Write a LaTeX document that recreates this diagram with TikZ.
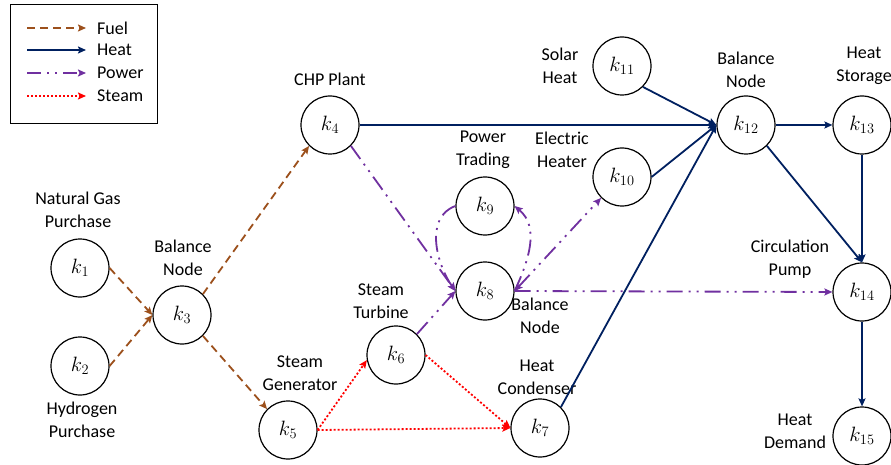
\documentclass[tikz,border=0pt]{standalone}
\usepackage{fontspec}
\setmainfont{Carlito}
\usetikzlibrary{arrows.meta}
\definecolor{fuelc}{RGB}{156,80,28}
\definecolor{heatc}{RGB}{0,32,96}
\definecolor{powerc}{RGB}{112,48,160}
\definecolor{steamc}{RGB}{255,0,0}
\begin{document}
\begin{tikzpicture}[x=1pt,y=-1pt,
  kn/.style={circle,draw=black,line width=1.2pt,minimum size=58pt,inner sep=0pt,font=\fontsize{22}{24}\selectfont},
  lab/.style={align=center,inner sep=0pt,font=\fontsize{18}{23}\selectfont},
  tip/.style={-{Stealth[length=8pt,width=7pt,inset=1.5pt]}},
  fuel/.style={tip,draw=fuelc,line width=1.8pt,dash pattern=on 8pt off 5pt},
  heat/.style={tip,draw=heatc,line width=1.8pt},
  power/.style={tip,draw=powerc,line width=1.8pt,dash pattern=on 16pt off 6pt on 2pt off 6pt on 2pt off 6pt},
  steam/.style={tip,draw=steamc,line width=1.8pt,dash pattern=on 2pt off 2pt}]
\useasboundingbox (0,0) rectangle (891,465);
\fill[white] (0,0) rectangle (891,465);

% legend
\draw[line width=0.8pt] (10,4) rectangle (157,123);
\coordinate (f1) at (27,28); \coordinate (f2) at (86,28);
\coordinate (h1) at (27,50); \coordinate (h2) at (86,50);
\coordinate (p1) at (27,73); \coordinate (p2) at (86,73);
\coordinate (s1) at (27,96); \coordinate (s2) at (86,96);
\draw[fuel] (f1) -- (f2);
\draw[heat] (h1) -- (h2);
\draw[power,dash pattern=on 14pt off 6pt on 2pt off 6pt on 2pt off 6pt] (p1) -- (p2);
\draw[steam] (s1) -- (s2);
\node[lab,anchor=west] (lf) at (97,28) {Fuel};
\node[lab,anchor=west] (lh) at (97,50) {Heat};
\node[lab,anchor=west] (lp) at (97,73) {Power};
\node[lab,anchor=west] (ls) at (97,96) {Steam};

% nodes
\node[kn] (k1) at (80,268) {$k_{1}$};
\node[kn] (k2) at (80,366) {$k_{2}$};
\node[kn] (k3) at (182,315) {$k_{3}$};
\node[kn] (k4) at (330,125) {$k_{4}$};
\node[kn] (k5) at (288,430) {$k_{5}$};
\node[kn] (k6) at (396,355) {$k_{6}$};
\node[kn] (k7) at (540,428) {$k_{7}$};
\node[kn] (k8) at (485,291) {$k_{8}$};
\node[kn] (k9) at (485,206) {$k_{9}$};
\node[kn] (k10) at (622,177) {$k_{10}$};
\node[kn] (k11) at (622,66) {$k_{11}$};
\node[kn] (k12) at (746,125) {$k_{12}$};
\node[kn] (k13) at (862,125) {$k_{13}$};
\node[kn] (k14) at (862,292) {$k_{14}$};
\node[kn] (k15) at (862,436) {$k_{15}$};

% labels
\node[lab] (t1) at (78,210) {Natural Gas\\Purchase};
\node[lab] (t2) at (82,420) {Hydrogen\\Purchase};
\node[lab] (t3) at (183,258) {Balance\\Node};
\node[lab] (t4) at (330,79) {CHP Plant};
\node[lab] (t5) at (300,373) {Steam\\Generator};
\node[lab] (t6) at (381,301) {Steam\\Turbine};
\node[lab] (t7) at (537,377) {Heat\\Condenser};
\node[lab] (t9) at (483,150) {Power\\Trading};
\node[lab] (t10) at (562,150) {Electric\\Heater};
\node[lab] (t8) at (540,316) {Balance\\Node};
\node[lab] (t11) at (560,66) {Solar\\Heat};
\node[lab] (t12) at (746,70) {Balance\\Node};
\node[lab] (t13) at (864,66) {Heat\\Storage};
\node[lab] (t14) at (790,259) {Circulation\\Pump};
\node[lab] (t15) at (795,431) {Heat\\Demand};

% fuel
\draw[fuel] (k1.east) -- (k3.west);
\draw[fuel] (k2.east) -- (k3.west);
\draw[fuel] (k3.north east) -- (k4.south west);
\draw[fuel] (k3.south east) -- (k5.north west);

% heat
\draw[heat] (k4.east) -- (k12.west);
\draw[heat] (k11.south east) -- (k12.west);
\draw[heat] (k10.east) -- (k12.west);
\draw[heat] (k7.north east) -- (k12.west);
\draw[heat] (k12.east) -- (k13.west);
\draw[heat] (k12.south east) -- (k14.north);
\draw[heat] (k13.south) -- (k14.north);
\draw[heat] (k14.south) -- (k15.north);

% power
\draw[power] (k4.south east) -- (k8.west);
\draw[power] (k6.north east) -- (k8.west);
\draw[power] (k9.west) to[out=200,in=125] (k8.west);
\draw[power] (k8.east) to[out=65,in=-40] (k9.east);
\draw[power,{Stealth[length=8pt,width=7pt,inset=1.5pt]}-{Stealth[length=8pt,width=7pt,inset=1.5pt]}] (k8.east) -- (k10.south west);
\draw[power] (k8.east) -- (k14.west);

% steam
\draw[steam] (k5.east) -- (k6.190);
\draw[steam] (k5.east) -- (k7.west);
\draw[steam] (k6.east) -- (k7.west);
\end{tikzpicture}
\end{document}
